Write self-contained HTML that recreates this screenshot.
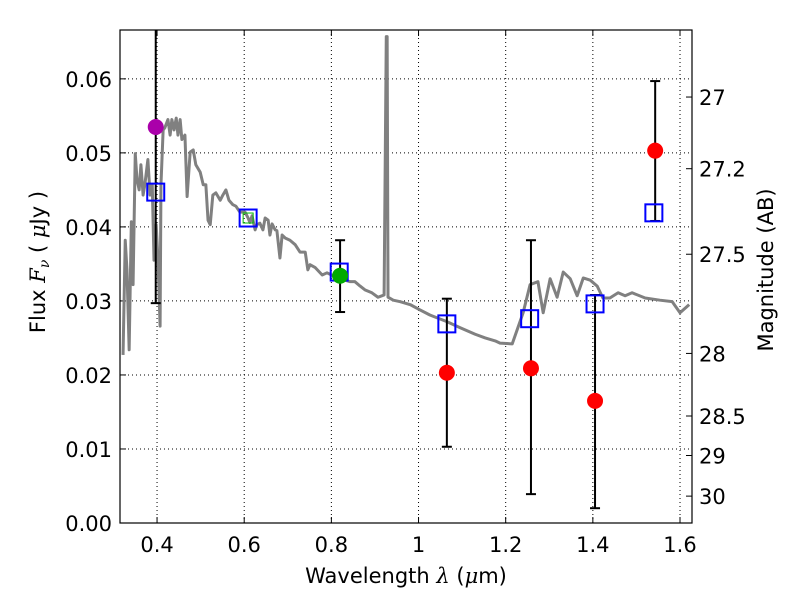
<!DOCTYPE html>
<html><head><meta charset="utf-8"><style>body{margin:0;background:#fff}svg{display:block;font-family:"DejaVu Sans","Liberation Sans",sans-serif}</style></head>
<body>
<svg id="chart" width="800" height="600"></svg>
<script>
const specLam=[0.322,0.327,0.331,0.336,0.341,0.345,0.350,0.354,0.359,0.363,0.368,0.372,0.379,0.384,0.389,0.393,0.398,0.402,0.407,0.409,0.414,0.418,0.425,0.430,0.434,0.439,0.444,0.448,0.453,0.457,0.464,0.469,0.476,0.483,0.489,0.499,0.506,0.512,0.517,0.522,0.528,0.535,0.545,0.551,0.558,0.565,0.574,0.581,0.590,0.602,0.609,0.613,0.618,0.625,0.629,0.636,0.643,0.648,0.655,0.659,0.664,0.671,0.675,0.682,0.687,0.694,0.705,0.717,0.728,0.740,0.746,0.751,0.763,0.779,0.790,0.804,0.815,0.824,0.831,0.843,0.854,0.866,0.877,0.893,0.907,0.921,0.926,0.928,0.930,0.942,0.958,0.981,1.003,1.026,1.065,1.095,1.130,1.153,1.176,1.187,1.215,1.240,1.256,1.274,1.286,1.302,1.318,1.332,1.348,1.364,1.378,1.394,1.410,1.423,1.439,1.458,1.474,1.490,1.520,1.554,1.582,1.600,1.621];
const specFlux=[0.0227,0.0382,0.0342,0.0234,0.0407,0.0322,0.0499,0.0464,0.0450,0.0484,0.0443,0.0457,0.0491,0.0443,0.0457,0.0355,0.0403,0.0358,0.0266,0.0457,0.0531,0.0534,0.0545,0.0524,0.0545,0.0531,0.0547,0.0524,0.0545,0.0518,0.0524,0.0441,0.0501,0.0504,0.0484,0.0474,0.0457,0.0457,0.0409,0.0403,0.0443,0.0446,0.0436,0.0443,0.0450,0.0436,0.0430,0.0428,0.0420,0.0420,0.0412,0.0406,0.0415,0.0396,0.0403,0.0405,0.0396,0.0412,0.0409,0.0389,0.0404,0.0396,0.0395,0.0358,0.0389,0.0385,0.0382,0.0376,0.0366,0.0366,0.0342,0.0349,0.0345,0.0335,0.0338,0.0334,0.0330,0.0326,0.0328,0.0326,0.0326,0.0320,0.0315,0.0311,0.0305,0.0308,0.0657,0.0657,0.0305,0.0301,0.0299,0.0295,0.0288,0.0281,0.0272,0.0264,0.0255,0.0250,0.0246,0.0243,0.0242,0.0284,0.0322,0.0326,0.0284,0.0330,0.0305,0.0339,0.0330,0.0307,0.0331,0.0328,0.0320,0.0304,0.0304,0.0311,0.0307,0.0311,0.0304,0.0301,0.0299,0.0284,0.0295];
const obsLam=[0.397,0.82,1.065,1.258,1.405,1.543];
const obsFlux=[0.0535,0.0334,0.0203,0.0209,0.0165,0.0503];
const obsErrHi=[0.07,0.0382,0.0303,0.0382,0.0308,0.0597];
const obsErrLo=[0.0297,0.0285,0.0103,0.0039,0.0020,0.0408];
const obsColor=['#aa00aa','#00aa00','red','red','red','red'];
const modLam=[0.397,0.609,0.818,1.065,1.255,1.405,1.540];
const modFlux=[0.0447,0.0412,0.0339,0.0269,0.0276,0.0296,0.0419];
const xTicks=[0.4,0.6,0.8,1.0,1.2,1.4,1.6];
const xTickLabels=['0.4','0.6','0.8','1','1.2','1.4','1.6'];
const yTicks=[0,0.01,0.02,0.03,0.04,0.05,0.06];
const yTickLabels=['0.00','0.01','0.02','0.03','0.04','0.05','0.06'];
const magTicks=[27,27.2,27.5,28,28.5,29,30];
const magTickLabels=['27','27.2','27.5','28','28.5','29','30'];

const L=120,R=692,T=30,B=523,xmin=0.315,xmax=1.6275,ymin=0,ymax=0.0666;
const X=v=>L+(v-xmin)/(xmax-xmin)*(R-L);
const Y=v=>B-(v-ymin)/(ymax-ymin)*(B-T);
const magToFlux=m=>Math.pow(10,(23.9-m)/2.5);
const svg=document.getElementById('chart');
const NS='http://www.w3.org/2000/svg';
function mk(tag,attrs,parent){const e=document.createElementNS(NS,tag);for(const k in attrs)e.setAttribute(k,attrs[k]);(parent||svg).appendChild(e);return e;}
const clip=mk('clipPath',{id:'pc'});mk('rect',{x:L,y:T,width:R-L,height:B-T},clip);

xTicks.forEach((t,i)=>{const x=X(t);
 const g=mk('line',{x1:x,x2:x,y1:T,y2:B,stroke:'#000','stroke-dasharray':'1,3','stroke-width':1});
 
 mk('line',{x1:x,x2:x,y1:B,y2:B-6,stroke:'#000'});mk('line',{x1:x,x2:x,y1:T,y2:T+6,stroke:'#000'});
 const tx=mk('text',{x:x,y:552,'font-size':21,'text-anchor':'middle'});tx.textContent=xTickLabels[i];
 
});
yTicks.forEach((t,i)=>{const y=Y(t);
 const g=mk('line',{x1:L,x2:R,y1:y,y2:y,stroke:'#000','stroke-dasharray':'1,3','stroke-width':1});
 
 mk('line',{x1:L,x2:L+6,y1:y,y2:y,stroke:'#000'});
 const tx=mk('text',{x:112,y:y+8,'font-size':21,'text-anchor':'end'});tx.textContent=yTickLabels[i];
 
});
magTicks.forEach((m,i)=>{const y=Y(magToFlux(m));
 mk('line',{x1:R,x2:R-6,y1:y,y2:y,stroke:'#000'});
 const tx=mk('text',{x:699,y:y+8,'font-size':21});tx.textContent=magTickLabels[i];
 
});

const gp=mk('g',{'clip-path':'url(#pc)'});
const sp=mk('polyline',{points:specLam.map((l,i)=>X(l)+','+Y(specFlux[i])).join(' '),fill:'none',stroke:'#808080','stroke-width':3,'stroke-linejoin':'round'},gp);


obsLam.forEach((l,i)=>{const x=X(l);
 const e=mk('line',{x1:x,x2:x,y1:Y(obsErrHi[i]),y2:Y(obsErrLo[i]),stroke:'#000','stroke-width':2},gp);
 
 [obsErrHi[i],obsErrLo[i]].forEach(v=>mk('line',{x1:x-5,x2:x+5,y1:Y(v),y2:Y(v),stroke:'#000','stroke-width':2},gp));
});
modLam.forEach((l,i)=>{const x=X(l),y=Y(modFlux[i]);
 const s=mk('rect',{x:x-8.5,y:y-8.5,width:17,height:17,fill:'none',stroke:'#0000ff','stroke-width':2},gp);
 
});
mk('rect',{x:X(0.609)-5,y:Y(0.0412)-5,width:10,height:10,fill:'none',stroke:'#00bb00','stroke-width':1},gp);
obsLam.forEach((l,i)=>{
 const c=mk('circle',{cx:X(l),cy:Y(obsFlux[i]),r:8,fill:obsColor[i]},gp);
 
});

const fr=mk('rect',{x:L,y:T,width:R-L,height:B-T,fill:'none',stroke:'#000','stroke-width':1.2});

</script>
<div style="position:absolute;left:0;top:0;width:800px;height:600px;pointer-events:none">
<svg width="800" height="600" style="font-family:'DejaVu Sans','Liberation Sans',sans-serif">
<text x="406" y="583" font-size="21" text-anchor="middle">Wavelength  <tspan font-style="italic" font-family="DejaVu Serif,serif">λ</tspan> (<tspan font-style="italic" font-family="DejaVu Serif,serif">μ</tspan>m)</text>
<text transform="translate(45,262) rotate(-90)" font-size="21" text-anchor="middle">Flux  <tspan font-style="italic" font-family="DejaVu Serif,serif">F</tspan><tspan font-style="italic" font-family="DejaVu Serif,serif" font-size="14" dy="4">ν</tspan><tspan dy="-4">  (  </tspan><tspan font-style="italic" font-family="DejaVu Serif,serif">μ</tspan>Jy )</text>
<text transform="translate(773,270) rotate(-90)" font-size="21" text-anchor="middle">Magnitude (AB)</text>
</svg></div>
</body></html>
